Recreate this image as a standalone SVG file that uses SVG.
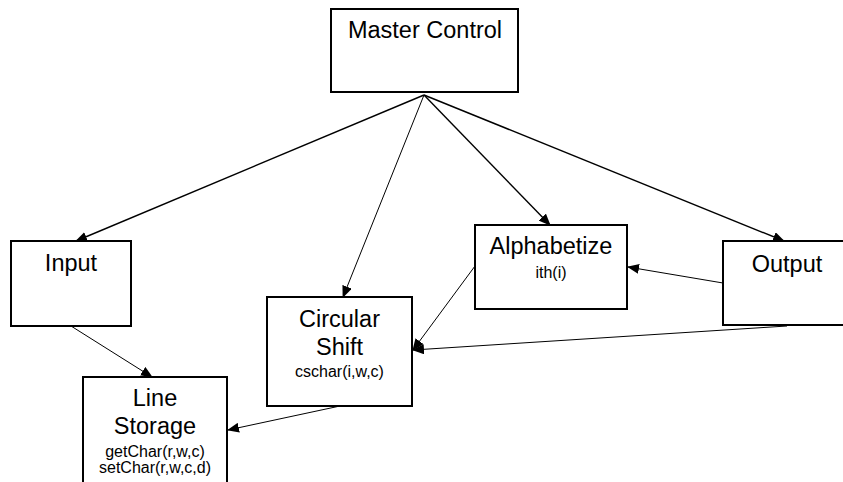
<svg xmlns="http://www.w3.org/2000/svg" width="843" height="482" viewBox="0 0 843 482">
<style>
.box{fill:#fff;stroke:#000;stroke-width:2}
.big{font-family:"Liberation Sans",Arial,sans-serif;font-size:23.5px;fill:#000;text-anchor:middle}
.small{font-family:"Liberation Sans",Arial,sans-serif;font-size:16px;fill:#000;text-anchor:middle}
.c{fill:none;stroke:#000;stroke-width:1}
.t{stroke-width:1.4}
</style>
<defs>
<marker id="ah" markerUnits="userSpaceOnUse" markerWidth="12" markerHeight="10" viewBox="0 0 12 10" refX="11" refY="5" orient="auto">
<path d="M0,0 L12,5 L0,10 Z" fill="#000"/>
</marker>
</defs>
<rect width="843" height="482" fill="#fff"/>
<g id="connectors">
<path class="c t" d="M424,95 L76,241" marker-end="url(#ah)"/>
<path class="c" d="M424,95 L343,297" marker-end="url(#ah)"/>
<path class="c t" d="M424,95 L550,225" marker-end="url(#ah)"/>
<path class="c t" d="M424,95 L784,241" marker-end="url(#ah)"/>
<path class="c" d="M71,326 L152,377" marker-end="url(#ah)"/>
<path class="c" d="M475,266 L413,350" marker-end="url(#ah)"/>
<path class="c" d="M723,283 L628,267" marker-end="url(#ah)"/>
<path class="c" d="M787,326 L413,350" marker-end="url(#ah)"/>
<path class="c" d="M340,406 L228,430" marker-end="url(#ah)"/>
</g>
<g id="master-control">
<rect class="box" x="331" y="9" width="187" height="83"/>
<text class="big" x="425" y="38">Master Control</text>
</g>
<g id="input">
<rect class="box" x="11" y="241" width="120" height="85"/>
<text class="big" x="71" y="271">Input</text>
</g>
<g id="alphabetize">
<rect class="box" x="475" y="225" width="152" height="84"/>
<text class="big" x="551" y="254">Alphabetize</text>
<text class="small" x="551" y="278">ith(i)</text>
</g>
<g id="output">
<rect class="box" x="723" y="241" width="130" height="84"/>
<text class="big" x="787" y="271.5">Output</text>
</g>
<g id="circular-shift">
<rect class="box" x="267" y="297" width="145" height="109"/>
<text class="big" x="339.5" y="326.5">Circular</text>
<text class="big" x="339.5" y="355">Shift</text>
<text class="small" x="339.5" y="377">cschar(i,w,c)</text>
</g>
<g id="line-storage">
<rect class="box" x="83" y="377" width="144" height="120"/>
<text class="big" x="155" y="405.5">Line</text>
<text class="big" x="155" y="434">Storage</text>
<text class="small" x="155" y="456.5">getChar(r,w,c)</text>
<text class="small" x="155" y="473">setChar(r,w,c,d)</text>
</g>
</svg>
